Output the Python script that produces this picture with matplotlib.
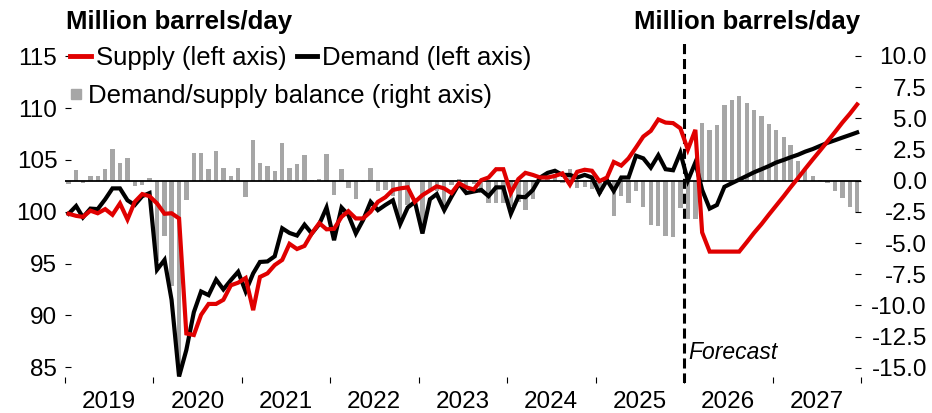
import matplotlib
matplotlib.use("Agg")
import matplotlib.pyplot as plt
import matplotlib.dates as mdates
from matplotlib.lines import Line2D
from matplotlib.ticker import FormatStrFormatter, NullFormatter
import numpy as np
import pandas as pd

plt.rcParams['font.family'] = ['Liberation Sans', 'DejaVu Sans']
plt.rcParams['axes.unicode_minus'] = False

# monthly, Jan 2019 - Dec 2027 (forecast from Jan 2026)
start_month = '2019-01-01'
forecast_start = '2026-01-01'

supply = [
    99.8, 99.6, 99.5, 100.1, 99.85, 100.25, 99.7, 100.8, 99.25, 100.95, 101.7, 101.5,
    100.8, 99.8, 99.85, 99.35, 88.25, 88.1, 90.05, 91.1, 91.1, 91.5, 92.9, 93.15,
    93.6, 90.5, 93.7, 94.05, 94.85, 95.35, 96.9, 96.4, 96.7, 97.9, 98.9, 98.3,
    98.35, 99.5, 100.05, 99.35, 99.35, 100.0, 100.95, 101.4, 102.1, 102.25, 102.35, 100.95,
    101.6, 102.05, 102.45, 102.25, 101.8, 102.75, 102.35, 102.15, 103.05, 103.3, 104.1, 104.1,
    101.8, 103.15, 103.75, 103.55, 103.3, 103.3, 103.45, 103.7, 102.6, 103.85, 104.05, 103.95,
    102.95, 103.3, 104.8, 104.45, 105.15, 106.2, 107.25, 107.8, 108.9, 108.6, 108.55, 108.05,
    106.0, 107.9, 98.0, 96.15, 96.15, 96.15, 96.15, 96.15, 97.05, 97.95, 98.8, 99.7,
    100.6, 101.5, 102.35, 103.25, 104.15, 105.05, 105.9, 106.8, 107.7, 108.6, 109.45, 110.35,
]
demand = [
    99.8, 100.55, 99.45, 100.3, 100.25, 101.2, 102.25, 102.25, 101.1, 100.65, 101.5, 101.8,
    94.4, 95.35, 91.5, 84.1, 86.65, 90.3, 92.3, 91.95, 93.45, 92.5, 93.4, 94.2,
    92.3, 94.05, 95.15, 95.2, 95.7, 98.4, 97.95, 97.7, 98.75, 97.9, 98.8, 100.4,
    97.25, 100.4, 99.7, 97.9, 99.2, 100.95, 100.15, 100.65, 101.1, 98.8, 100.4, 100.95,
    97.9, 101.2, 101.7, 100.15, 101.45, 102.7, 101.8, 101.95, 102.1, 101.5, 102.35, 102.35,
    99.8, 101.45, 101.4, 102.1, 103.3, 103.75, 103.95, 103.55, 103.55, 103.3, 103.55, 103.3,
    101.8, 103.05, 102.0, 103.3, 103.3, 105.4, 105.15, 104.25, 105.45, 104.1, 104.0, 105.7,
    103.0, 104.75, 102.1, 100.3, 100.65, 102.4, 102.75, 103.1, 103.45, 103.8, 104.1, 104.4,
    104.75, 105.0, 105.25, 105.5, 105.8, 106.05, 106.35, 106.65, 106.9, 107.15, 107.4, 107.65,
]
balance = [
    -0.25, 0.85, -0.15, 0.35, 0.4, 0.9, 2.55, 1.4, 1.8, -0.45, -0.35, 0.25,
    -6.4, -4.4, -8.4, -15.2, -1.55, 2.2, 2.25, 0.9, 2.4, 1.05, 0.4, 1.05,
    -1.3, 3.25, 1.45, 1.2, 0.75, 3.05, 1.05, 1.35, 2.05, 0.05, 0.15, 2.15,
    -1.15, 0.9, -0.6, -1.5, -0.1, 1.05, -0.8, -0.75, -1.2, -3.3, -1.95, 0.0,
    -3.6, -0.85, -0.8, -2.1, -0.35, 0.1, -0.55, -0.25, -0.95, -1.8, -1.75, -1.75,
    -2.0, -1.7, -2.35, -1.45, 0.0, 0.45, 0.5, -0.15, 0.95, -0.55, -0.5, -0.65,
    -1.1, -0.25, -2.8, -1.2, -1.8, -0.8, -2.1, -3.55, -3.6, -4.45, -4.5, -2.2,
    -3.1, -3.05, 4.65, 4.05, 4.45, 6.05, 6.45, 6.75, 6.25, 5.65, 5.15, 4.55,
    4.05, 3.5, 2.85, 1.6, 1.0, 0.4, 0.05, -0.2, -0.8, -1.4, -2.1, -2.55,
]

left_ticks = [85, 90, 95, 100, 105, 110, 115]
right_ticks = [-15.0, -12.5, -10.0, -7.5, -5.0, -2.5, 0.0, 2.5, 5.0, 7.5, 10.0]

RED = '#e00000'
GREY = '#a6a6a6'
FS = 17.5

months = pd.date_range(start_month, periods=len(supply), freq='MS')
x = months + pd.Timedelta(days=15)

fig = plt.figure(figsize=(9.32, 4.13), dpi=100)
ax = fig.add_axes([65 / 932, 1 - 383 / 413, 796 / 932, 343 / 413])
ax2 = ax.twinx()
ax.set_zorder(ax2.get_zorder() + 1)
ax.patch.set_visible(False)

ax2.bar(x, balance, width=18, color=GREY, zorder=1)
ax2.axhline(0, color='black', lw=1.3, zorder=2)

ax.axvline(pd.Timestamp(forecast_start), color='black', lw=2.2, ls=(0, (3.3, 1.6)), zorder=2)
ax.plot(x, demand, color='black', lw=3, zorder=3, solid_joinstyle='miter')
ax.plot(x, supply, color=RED, lw=3, zorder=4, solid_joinstyle='miter')

ax.set_xlim(pd.Timestamp('2019-01-01'), pd.Timestamp('2028-01-01'))
ax.set_ylim(83.47, 116.57)
ax2.set_ylim(-16.21, 11.27)

ax.xaxis.set_major_locator(mdates.YearLocator())
ax.xaxis.set_major_formatter(NullFormatter())
ax.xaxis.set_minor_locator(mdates.MonthLocator(bymonth=7))
ax.xaxis.set_minor_formatter(mdates.DateFormatter('%Y'))
ax.tick_params(axis='x', which='major', direction='in', length=4.5, width=0.8)
ax.tick_params(axis='x', which='minor', length=0, labelsize=FS, pad=6)

ax.set_yticks(left_ticks)
ax.tick_params(axis='y', direction='in', length=4.5, width=0.8, labelsize=FS, pad=5.5)

ax2.set_yticks(right_ticks)
ax2.yaxis.set_major_formatter(FormatStrFormatter('%.1f'))
ax2.tick_params(axis='y', direction='in', length=4.5, width=0.8, labelsize=FS, pad=47.5)
for lab in ax2.get_yticklabels():
    lab.set_ha('right')

for a in (ax, ax2):
    for s in a.spines.values():
        s.set_visible(False)

# legends
h1 = [Line2D([], [], color=RED, lw=3.5), Line2D([], [], color='black', lw=3.5)]
leg1 = ax.legend(h1, ['Supply (left axis)', 'Demand (left axis)'], ncol=2,
                 loc='center left', bbox_to_anchor=(5 / 796, (383 - 58) / 343),
                 frameon=False, fontsize=18.5, handlelength=0.8, handletextpad=0.2,
                 columnspacing=0.4, borderpad=0, borderaxespad=0)
ax.add_artist(leg1)
h2 = [Line2D([], [], color=GREY, marker='s', ms=7.5, ls='none')]
ax.legend(h2, ['Demand/supply balance (right axis)'],
          loc='center left', bbox_to_anchor=(5 / 796, (383 - 96) / 343),
          frameon=False, fontsize=18.5, handlelength=0.45, handletextpad=0.25,
          borderpad=0, borderaxespad=0)

ax.annotate('Forecast', xy=(pd.Timestamp(forecast_start), 0.09),
            xycoords=('data', 'axes fraction'), xytext=(3, 0), textcoords='offset points',
            fontsize=16.5, style='italic', va='center', ha='left')

fig.text(66 / 932, 1 - 29.5 / 413, 'Million barrels/day', fontsize=18.5,
         fontweight='bold', va='baseline', ha='left')
fig.text(860 / 932, 1 - 29.5 / 413, 'Million barrels/day', fontsize=18.5,
         fontweight='bold', va='baseline', ha='right')

fig.savefig('out.png', dpi=100)
